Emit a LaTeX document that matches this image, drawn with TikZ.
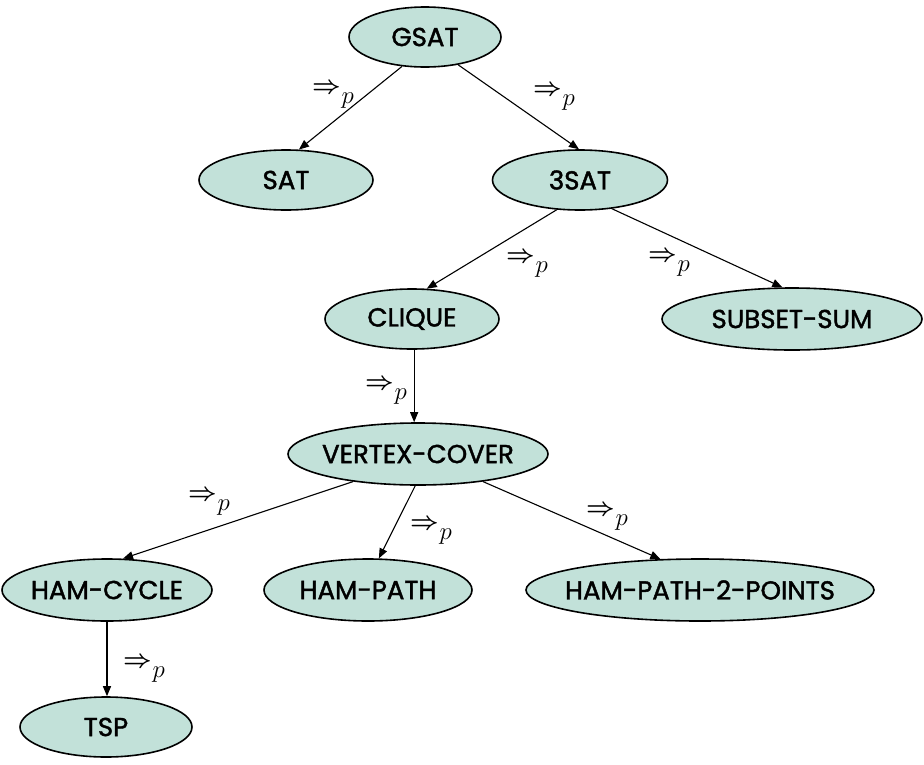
\documentclass[tikz,border=0pt]{standalone}
\usepackage{fontspec}
\setmainfont{Poppins}
\newfontfamily\nodefont{Poppins}[FakeBold=1.6]
\usetikzlibrary{shapes.geometric,arrows.meta}
\definecolor{probfill}{RGB}{194,225,217}
\newcommand\pn[1]{\makebox[0pt]{#1}}
\newcommand\rp{{\fontsize{24}{24}\selectfont\boldmath$\Rightarrow$}\kern1pt\raisebox{-10pt}{\fontsize{26}{26}\selectfont$p$}}
\tikzset{
  prob/.style={ellipse, draw=black, line width=1.6pt, fill=probfill, inner sep=0pt,
    font=\nodefont\fontsize{26}{26}\selectfont},
  red/.style={-{Triangle[length=10pt,width=8pt]}, line width=1.1pt},
  lab/.style={inner sep=0pt, anchor=center}
}
\begin{document}
\begin{tikzpicture}[x=1pt,y=-1pt]
\useasboundingbox (0,0) rectangle (924,764);
\node[prob, minimum width=152pt, minimum height=60pt] (gsat) at (425,37) {\pn{GSAT}};
\node[prob, minimum width=174pt, minimum height=60pt] (sat) at (286,180) {\pn{SAT}};
\node[prob, minimum width=175pt, minimum height=60pt] (3sat) at (580,180) {\pn{3SAT}};
\node[prob, minimum width=174pt, minimum height=60pt] (clique) at (412,319) {\pn{CLIQUE}};
\node[prob, minimum width=260pt, minimum height=62pt] (subset) at (792,319) {\pn{SUBSET-SUM}};
\node[prob, minimum width=260pt, minimum height=62pt] (vc) at (418,454) {\pn{VERTEX-COVER}};
\node[prob, minimum width=210pt, minimum height=62pt] (hc) at (107,590) {\pn{HAM-CYCLE}};
\node[prob, minimum width=208pt, minimum height=62pt] (hp) at (368,590) {\pn{HAM-PATH}};
\node[prob, minimum width=348pt, minimum height=62pt] (hp2) at (700,590) {\pn{HAM-PATH-2-POINTS}};
\node[prob, minimum width=172pt, minimum height=60pt] (tsp) at (106,727) {\pn{TSP}};

\draw[red] (gsat.232) -- (sat.67);
\draw[red] (gsat.320) -- (3sat.92);
\draw[red] (3sat.232) -- (clique.64);
\draw[red] (3sat.318) -- (subset.107);
\draw[red] (clique.274) -- (clique.274 |- vc.north);
\draw[red] (vc.203) -- (hc.63);
\draw[red] (vc.265) -- (hp.71);
\draw[red] (vc.337) -- (hp2.142);
\draw[red] (hc.south) -- (hc.south |- tsp.north);

\node[lab] (l1) at (333,96) {\rp};
\node[lab] (l2) at (554,98) {\rp};
\node[lab] (l3) at (527,265) {\rp};
\node[lab] (l4) at (669,264) {\rp};
\node[lab] (l5) at (386,392) {\rp};
\node[lab] (l6) at (209,503) {\rp};
\node[lab] (l7) at (431,532) {\rp};
\node[lab] (l8) at (607,518) {\rp};
\node[lab] (l9) at (144,670) {\rp};
\end{tikzpicture}
\end{document}
